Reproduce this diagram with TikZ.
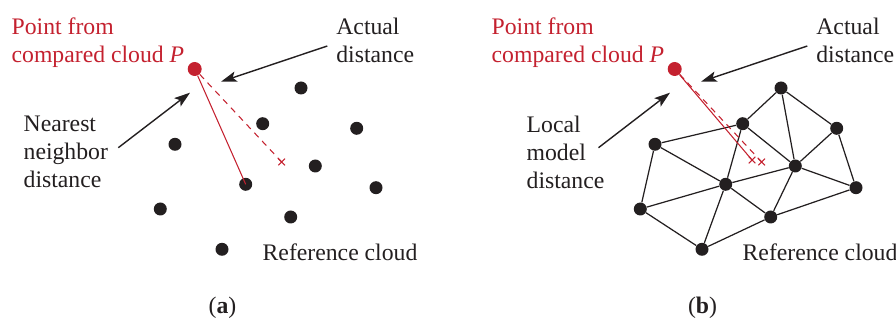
\documentclass[tikz,border=0pt]{standalone}
\usepackage{fontspec}
\setmainfont{Liberation Serif}
\usetikzlibrary{arrows.meta,shapes.misc}
\usepackage{xcolor}
\definecolor{cloudred}{HTML}{C4212F}
\definecolor{inkblack}{HTML}{231F20}

\begin{document}
\begin{tikzpicture}[x=0.02cm, y=-0.02cm,
    every node/.style={font=\fontsize{13.5}{16}\selectfont, text=inkblack},
    refpt/.style={circle, fill=inkblack, inner sep=0pt, minimum size=0.26cm},
    cmppt/.style={circle, fill=cloudred, inner sep=0pt, minimum size=0.28cm},
    hitmark/.style={cross out, draw=cloudred, line width=0.6pt, inner sep=0pt, minimum size=0.11cm},
    callout/.style={-{Stealth[length=9pt, width=6pt, inset=2pt]}, line width=0.8pt, draw=inkblack},
    mesh/.style={line width=0.7pt, draw=inkblack},
    txt/.style={align=left, inner sep=0pt, anchor=north west}]
  \useasboundingbox (0,0) rectangle (896,320);

  % reference cloud, same points in both panels
  \foreach \n/\x/\y in {1/301/88, 2/262.7/123.7, 3/356.7/128.3, 4/175/144.3, 5/315.3/166,
                        6/245.7/184.3, 7/376/187.7, 8/160.3/209, 9/290.7/217, 10/222/249.3} {
    \node[refpt] (a\n) at (\x,\y) {};
    \node[refpt] (b\n) at (\x+480,\y) {};
  }

  % (a) nearest neighbor
  \node[cmppt] (pa) at (194.7,69) {};
  \node[hitmark] (xa) at (281.7,162) {};
  \draw[cloudred, line width=0.6pt] (pa) -- (a6.center);
  \draw[cloudred, line width=0.6pt, dash pattern=on 3.5pt off 3pt] (pa) -- (xa.center);

  \node[txt, text=cloudred] (pta) at (11.3,17.5) {Point from\\compared cloud \textit{P}};
  \node[txt] (acta) at (336,17.5) {Actual\\distance};
  \node[txt] (nna) at (23.3,115.5) {Nearest\\neighbor\\distance};
  \node[anchor=base west, inner sep=0pt] (refa) at (262.3,260.7) {Reference cloud};
  \node[anchor=base, inner sep=0pt] (capa) at (222.5,314) {(\textbf{a})};

  \coordinate (acta-s) at (327.3,46);
  \coordinate (acta-t) at (221,81.7);
  \coordinate (nna-s) at (118.3,147.7);
  \coordinate (nna-t) at (190,92.7);
  \draw[callout] (acta-s) -- (acta-t);
  \draw[callout] (nna-s) -- (nna-t);

  % (b) local model
  \foreach \i/\j in {1/2, 1/3, 1/5, 2/4, 2/5, 2/6, 3/5, 3/7, 4/6, 4/8,
                     5/6, 5/7, 5/9, 6/8, 6/9, 6/10, 8/10, 9/10, 9/7}
    \draw[mesh] (b\i) -- (b\j);

  \node[cmppt] (pb) at (674.7,69) {};
  \node[hitmark] (xb1) at (752,160) {};
  \node[hitmark] (xb2) at (761.7,162) {};
  \draw[cloudred, line width=0.6pt] (pb) -- (xb1.center);
  \draw[cloudred, line width=0.6pt, dash pattern=on 3.5pt off 3pt] (pb) -- (xb2.center);

  \node[txt, text=cloudred] (ptb) at (491.3,17.5) {Point from\\compared cloud \textit{P}};
  \node[txt] (actb) at (816,17.5) {Actual\\distance};
  \node[txt] (lmb) at (526.3,115.5) {Local\\model\\distance};
  \node[anchor=base west, inner sep=0pt] (refb) at (742.3,260.7) {Reference cloud};
  \node[anchor=base, inner sep=0pt] (capb) at (702.5,314) {(\textbf{b})};

  \coordinate (actb-s) at (807.3,46);
  \coordinate (actb-t) at (701,81.7);
  \coordinate (lmb-s) at (598.5,147.7);
  \coordinate (lmb-t) at (670,92.7);
  \draw[callout] (actb-s) -- (actb-t);
  \draw[callout] (lmb-s) -- (lmb-t);
\end{tikzpicture}
\end{document}
